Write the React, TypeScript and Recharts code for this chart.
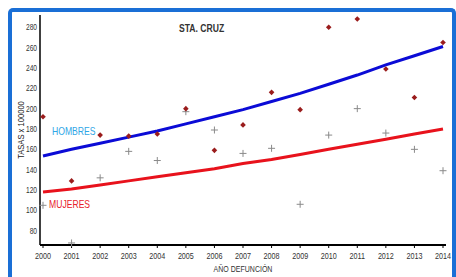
import React from 'react';
import { ComposedChart, Line, Scatter, XAxis, YAxis } from 'recharts';

const years = [2000, 2001, 2002, 2003, 2004, 2005, 2006, 2007, 2008, 2009, 2010, 2011, 2012, 2013, 2014];
const hombres = [192, 129, 174, 173, 175, 200, 159, 184, 216, 199, 280, 288, 239, 211, 265];
const mujeres = [105, 68, 132, 158, 149, 197, 179, 156, 161, 106, 174, 200, 176, 160, 139];
const trendHombres = [153.5, 160, 166, 172, 178, 185, 192, 199, 207, 215, 224, 233, 243, 252, 261];
const trendMujeres = [118, 121, 125, 129, 133, 137, 141, 146, 150, 155, 160, 165, 170, 175, 180];
const yTicks = [80, 100, 120, 140, 160, 180, 200, 220, 240, 260, 280];

const data = years.map((y, i) => ({
  year: y,
  h: hombres[i],
  m: mujeres[i],
  th: trendHombres[i],
  tm: trendMujeres[i],
}));

const FONT = "'Liberation Sans', Arial, sans-serif";

const Diamond = (props: any) => {
  const { cx, cy } = props;
  if (cx == null || cy == null) return null;
  const r = 2.8;
  return <polygon points={`${cx},${cy - r} ${cx + r},${cy} ${cx},${cy + r} ${cx - r},${cy}`} fill="#9a1c1c" />;
};

const Plus = (props: any) => {
  const { cx, cy } = props;
  if (cx == null || cy == null) return null;
  const r = 3.5;
  return (
    <g stroke="#8a8a8a" strokeWidth={1}>
      <line x1={cx - r} y1={cy} x2={cx + r} y2={cy} />
      <line x1={cx} y1={cy - r} x2={cx} y2={cy + r} />
    </g>
  );
};

const XTick = (props: any) => {
  const { x, y, payload } = props;
  return (
    <text
      x={0}
      y={0}
      transform={`translate(${x},${y}) scale(0.8,1)`}
      textAnchor="middle"
      dy="0.71em"
      fontSize={9}
      fill="#333"
      fontFamily={FONT}
    >
      {payload.value}
    </text>
  );
};

const YTick = (props: any) => {
  const { x, y, payload } = props;
  return (
    <text
      x={0}
      y={0}
      transform={`translate(${x},${y}) scale(0.78,1)`}
      textAnchor="end"
      dy="0.355em"
      fontSize={8.5}
      fill="#333"
      fontFamily={FONT}
    >
      {payload.value}
    </text>
  );
};

const NarrowText = ({ x, y, size, fill, bold, anchor, sx, children }: any) => (
  <text
    x={0}
    y={0}
    transform={`translate(${x},${y}) scale(${sx || 0.82},1)`}
    textAnchor={anchor || 'start'}
    fontSize={size}
    fontWeight={bold ? 'bold' : 'normal'}
    fill={fill}
    fontFamily={FONT}
  >
    {children}
  </text>
);

export default function App() {
  return (
    <>
      <style>{'html,body{overflow:hidden;} .chartwrap svg{overflow:visible;}'}</style>
      <div
        className="chartwrap"
        style={{
          position: 'fixed',
          left: 8,
          top: 8,
          width: 448,
          height: 269,
          boxSizing: 'border-box',
          borderTop: '4px solid #1a6fd6',
          borderLeft: '4px solid #1a6fd6',
          borderRight: '4px solid #1a6fd6',
          borderTopLeftRadius: 5,
          borderTopRightRadius: 5,
          background: '#fff',
        }}
      >
        <div style={{ position: 'absolute', left: 0, top: 0 }}>
          <ComposedChart width={440} height={265} data={data} margin={{ top: 3, right: 6, bottom: 0, left: 0 }}>
            <XAxis
              dataKey="year"
              type="number"
              domain={[2000, 2014]}
              ticks={years}
              padding={{ left: 3, right: 3 }}
              axisLine={{ stroke: '#000', strokeWidth: 2 }}
              tickLine={{ stroke: '#000' }}
              tickSize={3}
              tickMargin={5}
              height={32}
              interval={0}
              tick={<XTick />}
            />
            <YAxis
              type="number"
              domain={[66, 292]}
              ticks={yTicks}
              width={28}
              axisLine={{ stroke: '#000', strokeWidth: 1.5 }}
              tickLine={false}
              tickSize={0}
              tickMargin={3}
              interval={0}
              tick={<YTick />}
            />
            <Line dataKey="th" stroke="#0b0bd6" strokeWidth={3} dot={false} isAnimationActive={false} />
            <Line dataKey="tm" stroke="#e8121c" strokeWidth={3} dot={false} isAnimationActive={false} />
            <Scatter dataKey="m" shape={Plus} isAnimationActive={false} />
            <Scatter dataKey="h" shape={Diamond} isAnimationActive={false} />
          </ComposedChart>
        </div>
        <svg width={440} height={265} style={{ position: 'absolute', left: 0, top: 0, pointerEvents: 'none' }}>
          <NarrowText x={167} y={20} size={10.5} fill="#333" bold>STA. CRUZ</NarrowText>
          <NarrowText x={40} y={123} size={10.5} fill="#2fa6e6">HOMBRES</NarrowText>
          <NarrowText x={37} y={196} size={10.5} fill="#e8202a">MUJERES</NarrowText>
          <text
            x={0}
            y={0}
            transform="translate(12,118) rotate(-90) scale(0.8,1)"
            textAnchor="middle"
            fontSize={9.5}
            fill="#222"
            fontFamily={FONT}
          >
            TASAS x 100000
          </text>
          <NarrowText x={231} y={260} size={9} sx={0.78} fill="#333" anchor="middle">AÑO DEFUNCIÓN</NarrowText>
        </svg>
      </div>
    </>
  );
}
